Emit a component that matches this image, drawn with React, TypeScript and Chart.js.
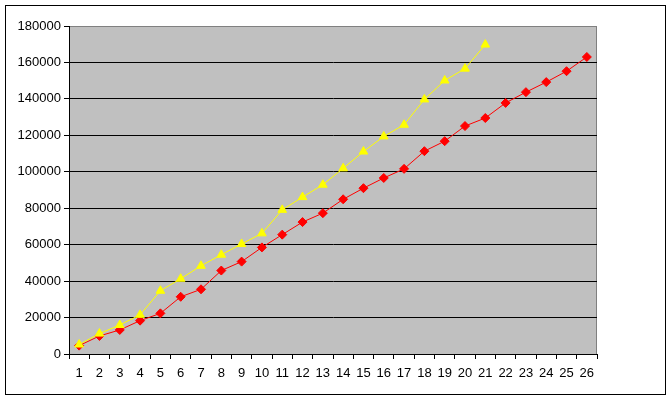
import React, { useEffect, useRef } from "react";
import { Chart, registerables } from "chart.js";

Chart.register(...registerables);

const categories: string[] = [
  "1", "2", "3", "4", "5", "6", "7", "8", "9", "10", "11", "12", "13",
  "14", "15", "16", "17", "18", "19", "20", "21", "22", "23", "24", "25", "26",
];

const redSeries: number[] = [
  4600, 9900, 13200, 18300, 22300, 31400, 35500, 45800, 50700, 58500,
  65500, 72400, 77300, 84900, 91000, 96600, 101600, 111300, 116800, 125100,
  129500, 137800, 143700, 149200, 155200, 163000,
];

const yellowSeries: number[] = [
  5200, 11200, 15900, 21500, 34700, 41300, 48400, 54500, 60400, 66200,
  79100, 86100, 92900, 101900, 111100, 119400, 125800, 139700, 150100, 156600,
  169800,
];

const yTickMin = 0;
const yTickMax = 180000;
const yTickStep = 20000;

const frame = {
  id: "frame",
  beforeDraw(chart: any) {
    const { ctx, chartArea } = chart;
    ctx.save();
    ctx.fillStyle = "#ffffff";
    ctx.fillRect(0, 0, chart.width, chart.height);
    ctx.strokeStyle = "#000000";
    ctx.lineWidth = 1;
    ctx.strokeRect(5.5, 5.5, 660, 389);
    ctx.fillStyle = "#c0c0c0";
    ctx.fillRect(
      chartArea.left,
      chartArea.top,
      chartArea.right - chartArea.left,
      chartArea.bottom - chartArea.top
    );
    ctx.strokeStyle = "#808080";
    ctx.strokeRect(
      chartArea.left + 0.5,
      chartArea.top + 0.5,
      chartArea.right - chartArea.left - 1,
      chartArea.bottom - chartArea.top
    );
    ctx.restore();
  },
};

export default function App() {
  const ref = useRef<HTMLCanvasElement | null>(null);

  useEffect(() => {
    document.body.style.margin = "0";
    if (!ref.current) return;
    const font = { family: "'Liberation Sans', Arial, sans-serif", size: 13 };
    const chart = new Chart(ref.current, {
      type: "line",
      data: {
        labels: categories,
        datasets: [
          {
            label: "Series 1",
            data: redSeries,
            borderColor: "#ff0000",
            backgroundColor: "#ff0000",
            borderWidth: 1,
            pointStyle: "rectRot",
            pointRadius: 4.5,
            pointBorderWidth: 1,
            pointBorderColor: "#ff0000",
            pointBackgroundColor: "#ff0000",
            tension: 0,
            order: 2,
          },
          {
            label: "Series 2",
            data: yellowSeries,
            borderColor: "#ffff00",
            backgroundColor: "#ffff00",
            borderWidth: 1,
            pointStyle: "triangle",
            pointRadius: 5,
            pointBorderWidth: 1,
            pointBorderColor: "#ffff00",
            pointBackgroundColor: "#ffff00",
            tension: 0,
            order: 1,
          },
        ],
      },
      options: {
        responsive: false,
        animation: false,
        events: [],
        layout: { padding: { left: 0, top: 26, right: 75, bottom: 0 } },
        plugins: {
          legend: { display: false },
          title: { display: false },
          tooltip: { enabled: false },
        },
        scales: {
          x: {
            type: "category",
            offset: true,
            grid: {
              offset: true,
              drawOnChartArea: false,
              drawTicks: true,
              tickLength: 5,
              tickColor: "#000000",
              color: "#000000",
            },
            border: { display: true, color: "#000000", width: 1 },
            ticks: {
              color: "#000000",
              font,
              padding: 7,
              maxRotation: 0,
              autoSkip: false,
            },
            afterFit: (s: any) => {
              s.height = 46;
            },
          },
          y: {
            min: yTickMin,
            max: yTickMax,
            grid: {
              color: (c: any) =>
                c.tick && c.tick.value === yTickMax ? "#808080" : "#000000",
              tickColor: "#000000",
              tickLength: 5,
              lineWidth: 1,
            },
            border: { display: true, color: "#000000", width: 1 },
            ticks: {
              stepSize: yTickStep,
              color: "#000000",
              font,
              padding: 3,
              callback: (v: any) => String(v),
            },
            afterFit: (s: any) => {
              s.width = 69;
            },
          },
        },
      },
      plugins: [frame],
    });
    return () => chart.destroy();
  }, []);

  return (
    <div style={{ position: "absolute", left: 0, top: 0, width: 672, height: 400 }}>
      <canvas ref={ref} width={672} height={400} style={{ display: "block" }} />
    </div>
  );
}
